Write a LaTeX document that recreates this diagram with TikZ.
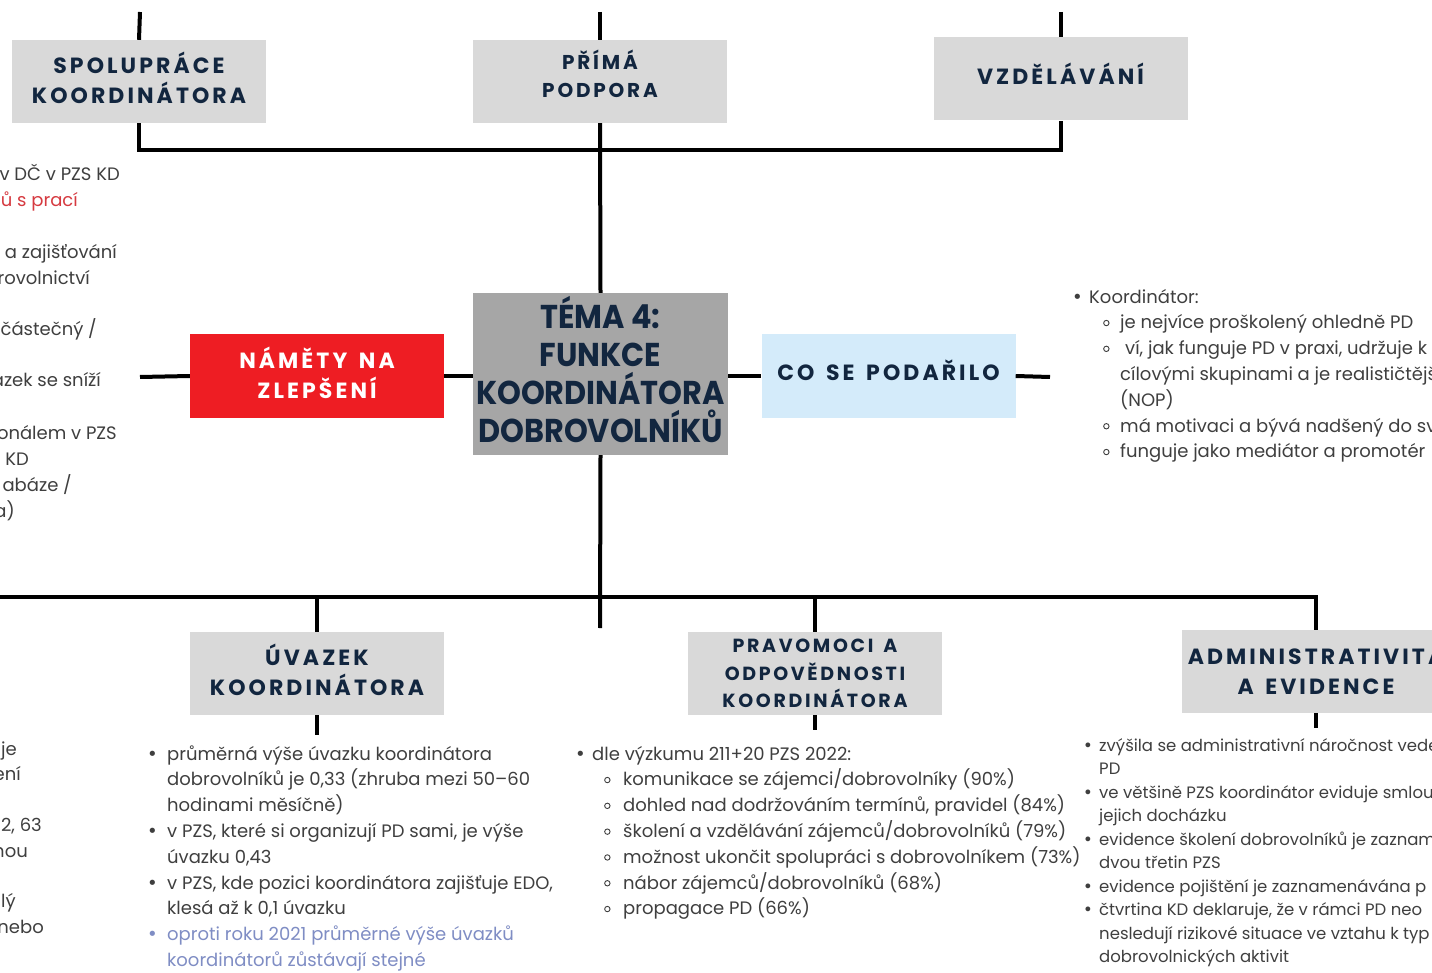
\documentclass[tikz,border=0pt]{standalone}
\usepackage{fontspec}
\setmainfont{Poppins}
\newfontfamily\headfont[LetterSpace=14,WordSpace=1.5]{Poppins}
\newfontfamily\titlefont[FakeStretch=0.92]{Poppins}
\newfontfamily\symfont{DejaVu Sans}

\definecolor{navy}{HTML}{12263F}
\definecolor{boxgray}{HTML}{D9D9D9}
\definecolor{centergray}{HTML}{A6A6A6}
\definecolor{redbox}{HTML}{EE1D23}
\definecolor{lightblue}{HTML}{D4EBFA}
\definecolor{bodygray}{HTML}{3F3F3F}
\definecolor{redtext}{HTML}{D63A40}
\definecolor{bluetext}{HTML}{7F8DC4}

% list markers: filled bullet and open circle, set in a box of given width
\newcommand\bul[1]{\makebox[#1][l]{\symfont •}}
\newcommand\cir[1]{\makebox[#1][l]{\raisebox{2.6pt}{\tikz\draw[line width=0.9pt, bodygray] (0,0) circle[radius=2.7pt];}}}
\newcommand\ind[1]{\makebox[#1]{}}

\tikzset{
  conn/.style={line width=4pt, black},
  box/.style={minimum width=254pt, minimum height=83pt, inner sep=0pt},
  graybox/.style={box, fill=boxgray},
  head/.style={inner sep=0pt, align=center, text=navy,
    font=\headfont\bfseries\fontsize{22}{30}\selectfont},
  body/.style={anchor=base west, inner sep=0pt, align=left, text=bodygray,
    font=\fontsize{18}{25.8}\selectfont},
  small/.style={body, font=\fontsize{16.5}{23.5}\selectfont},
  frag/.style={anchor=base east, inner sep=0pt, text=bodygray,
    font=\fontsize{18}{25.8}\selectfont},
}

\begin{document}
\begin{tikzpicture}[x=1pt,y=-1pt]
\useasboundingbox (0,0) rectangle (1432,973);
\clip (0,0) rectangle (1432,973);
\fill[white] (0,0) rectangle (1432,973);

% boxes, each with its title set as a centred label
\node[graybox, label={[head, yshift=4pt]center:SPOLUPRÁCE\\KOORDINÁTORA}] (spol) at (139,81.5) {};
\node[graybox, label={[head, yshift=7.5pt, font=\headfont\bfseries\fontsize{20}{28}\selectfont]center:PŘÍMÁ\\PODPORA}] (prima) at (600,81.5) {};
\node[graybox, label={[head, yshift=5pt]center:VZDĚLÁVÁNÍ}] (vzd) at (1060.5,79) {};
\node[box, fill=centergray, minimum width=255pt, minimum height=162pt,
  label={[head, yshift=4pt, font=\titlefont\bfseries\fontsize{33}{38}\selectfont]center:TÉMA 4:\\FUNKCE\\KOORDINÁTORA\\DOBROVOLNÍKŮ}] (center) at (600.5,374) {};
\node[box, fill=redbox, label={[head, text=white, yshift=3.5pt]center:NÁMĚTY NA\\ZLEPŠENÍ}] (red) at (317,376) {};
\node[box, fill=lightblue, label={[head, yshift=6pt]center:CO SE PODAŘILO}] (blue) at (888.5,376) {};
\node[graybox, label={[head, yshift=4pt]center:ÚVAZEK\\KOORDINÁTORA}] (uv) at (317,673.5) {};
\node[graybox, label={[head, font=\headfont\bfseries\fontsize{19}{27.5}\selectfont]center:PRAVOMOCI A\\ODPOVĚDNOSTI\\KOORDINÁTORA}] (prav) at (815,673.5) {};
\node[graybox, label={[head, xshift=7pt]center:ADMINISTRATIVITA\\A EVIDENCE}] (admin) at (1309,671.5) {};

% connector end points
\coordinate (t1) at (140,12);
\coordinate (t2) at (600,12);
\coordinate (t3) at (1060.5,12);
\coordinate (l1) at (140,377);
\coordinate (r1) at (1050,377);
\coordinate (bl) at (0,597);
\coordinate (ac) at (1316,597);
\coordinate (b0) at (600,628);
\coordinate (uvs) at (317,735);
\coordinate (pravs) at (815,730);
\coordinate (admins) at (1316,728);

% connectors
\draw[conn] (t1) -- (spol.north);
\draw[conn] (t2) -- (prima.north);
\draw[conn] (t3) -- (vzd.north);
\draw[conn, line join=miter] (spol.south) -- ++(0,27) -| (vzd.south);
\draw[conn] (prima.south) -- (center.north);
\draw[conn] (l1) -- (red.west);
\draw[conn] (red.east) -- (red.east -| center.west);
\draw[conn] (blue.west -| center.east) -- (blue.west);
\draw[conn] (blue.east) -- (r1);
\draw[conn] (center.south) -- (b0);
\draw[conn, line join=miter] (bl) -- (ac) -- (ac |- admin.north);
\draw[conn] (uv.north |- bl) -- (uv.north);
\draw[conn] (prav.north |- bl) -- (prav.north);
\draw[conn] (uv.south) -- (uvs);
\draw[conn] (prav.south) -- (pravs);
\draw[conn] (ac |- admin.south) -- (admins);

% text lists (the base anchor sits on the last line)
\node[body] (koord) at (1072,457.8) {\bul{17pt}Koordinátor:\\
\ind{31pt}\cir{17pt}je nejvíce proškolený ohledně PD\\
\ind{31pt}\cir{17pt}\hspace{5pt}ví, jak funguje PD v praxi, udržuje k\\
\ind{48pt}cílovými skupinami a je realističtějš\\
\ind{48pt}(NOP)\\
\ind{31pt}\cir{17pt}má motivaci a bývá nadšený do sv\\
\ind{31pt}\cir{17pt}funguje jako mediátor a promotér};

\node[body] (uvlist) at (147,966.4) {\bul{20pt}průměrná výše úvazku koordinátora\\
\ind{20pt}dobrovolníků je 0,33 (zhruba mezi 50–60\\
\ind{20pt}hodinami měsíčně)\\
\bul{20pt}v PZS, které si organizují PD sami, je výše\\
\ind{20pt}úvazku 0,43\\
\bul{20pt}v PZS, kde pozici koordinátora zajišťuje EDO,\\
\ind{20pt}klesá až k 0,1 úvazku\\
\textcolor{bluetext}{\bul{20pt}oproti roku 2021 průměrné výše úvazků}\\
\textcolor{bluetext}{\ind{20pt}koordinátorů zůstávají stejné}};

\node[body] (pravlist) at (575,914.8) {\bul{17pt}dle výzkumu 211+20 PZS 2022:\\
\ind{29pt}\cir{19pt}komunikace se zájemci/dobrovolníky (90\%)\\
\ind{29pt}\cir{19pt}dohled nad dodržováním termínů, pravidel (84\%)\\
\ind{29pt}\cir{19pt}školení a vzdělávání zájemců/dobrovolníků (79\%)\\
\ind{29pt}\cir{19pt}možnost ukončit spolupráci s dobrovolníkem (73\%)\\
\ind{29pt}\cir{19pt}nábor zájemců/dobrovolníků (68\%)\\
\ind{29pt}\cir{19pt}propagace PD (66\%)};

\node[small] (adminlist) at (1083,962.5) {\bul{16pt}zvýšila se administrativní náročnost vede\\
\ind{16pt}PD\\
\bul{16pt}ve většině PZS koordinátor eviduje smlou\\
\ind{16pt}jejich docházku\\
\bul{16pt}evidence školení dobrovolníků je zaznam\\
\ind{16pt}dvou třetin PZS\\
\bul{16pt}evidence pojištění je zaznamenávána p\\
\bul{16pt}čtvrtina KD deklaruje, že v rámci PD neo\\
\ind{16pt}nesledují rizikové situace ve vztahu k typ\\
\ind{16pt}dobrovolnických aktivit};

% fragments at the left edge
\node[frag] (f1) at (120,181) {v DČ v PZS KD};
\node[frag, text=redtext] (f2) at (78,207) {ů s prací};
\node[frag] (f3) at (117,259) {a zajišťování};
\node[frag] (f4) at (90,285) {rovolnictví};
\node[frag] (f5) at (97,336) {částečný /};
\node[frag] (f6) at (101,387) {azek se sníží};
\node[frag] (f7) at (117,439) {onálem v PZS};
\node[frag] (f8) at (29,465) {KD};
\node[frag] (f9) at (72,491) {abáze /};
\node[frag] (f10) at (15,517) {a)};
\node[frag] (f11) at (17,755) {je};
\node[frag] (f12) at (21,780) {ení};
\node[frag] (f13) at (42,831) {2, 63};
\node[frag] (f14) at (28,857) {nou};
\node[frag] (f15) at (16,907) {lý};
\node[frag] (f16) at (44,933) {nebo};
\end{tikzpicture}
\end{document}
